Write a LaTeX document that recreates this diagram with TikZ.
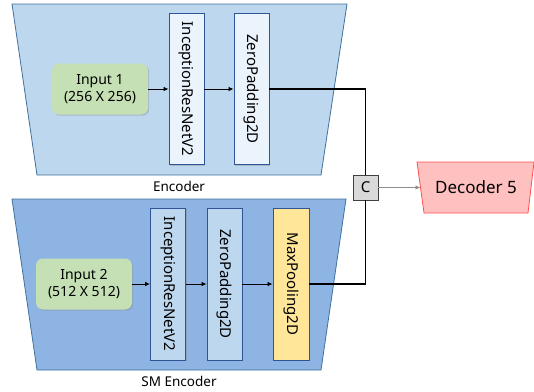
\documentclass[tikz,border=0pt]{standalone}
\usepackage{fontspec}
\setmainfont{Noto Sans}
\usetikzlibrary{arrows.meta,shadows}
\definecolor{encfill}{HTML}{BDD7EE}
\definecolor{smfill}{HTML}{8EB4E3}
\definecolor{trapline}{HTML}{41719C}
\definecolor{boxline}{HTML}{2F5597}
\definecolor{lightbox}{HTML}{EBF3FC}
\definecolor{midbox}{HTML}{BDD7EE}
\definecolor{ingreen}{HTML}{C5E0B4}
\definecolor{mpyellow}{HTML}{FFE699}
\definecolor{cgray}{HTML}{D9D9D9}
\definecolor{decfill}{HTML}{FFC0C0}
\definecolor{decline}{HTML}{FF5050}
\tikzset{
  trap/.style={draw=trapline, line width=0.8pt},
  layerbox/.style={draw=boxline, line width=0.9pt, minimum width=35pt, minimum height=151pt, inner sep=0pt,
    drop shadow={shadow xshift=1.2pt, shadow yshift=-1.2pt, opacity=0.35}},
  inputbox/.style={fill=ingreen, rounded corners=7pt, minimum width=96pt, minimum height=51pt, align=center,
    font=\fontsize{14}{17}\selectfont, inner sep=0pt,
    drop shadow={shadow xshift=1.2pt, shadow yshift=-1.2pt, opacity=0.35}},
  vtext/.style={rotate=-90, font=\fontsize{15}{17}\selectfont},
  flow/.style={-{Latex[length=5pt,width=4.5pt]}, line width=0.8pt},
  mainline/.style={line width=1.8pt, black},
  caption/.style={font=\fontsize{13.5}{16}\selectfont}
}
\begin{document}
\begin{tikzpicture}[x=1pt,y=-1pt]
\useasboundingbox (0,0) rectangle (534,391);
% trapezoids
\draw[trap, fill=encfill] (12,4) -- (347,4) -- (321,175) -- (37,175) -- cycle;
\draw[trap, fill=smfill] (12,199) -- (346,199) -- (321,370) -- (37,370) -- cycle;
\node[caption] (enclabel) at (179,186.5) {Encoder};
\node[caption] (smlabel) at (179,381.5) {SM Encoder};

% encoder
\node[inputbox] (in1) at (100,89) {Input 1\\(256 X 256)};
\node[layerbox, fill=lightbox, label={[vtext]center:InceptionResNetV2}] (inc1) at (186.5,89) {};
\node[layerbox, fill=lightbox, label={[vtext]center:ZeroPadding2D}] (zp1) at (251.5,89) {};
\draw[flow] (in1) -- (inc1);
\draw[flow] (inc1) -- (zp1);

% SM encoder
\node[inputbox] (in2) at (84,284) {Input 2\\(512 X 512)};
\node[layerbox, fill=midbox, minimum height=152pt, label={[vtext]center:InceptionResNetV2}] (inc2) at (168,284) {};
\node[layerbox, fill=midbox, minimum height=152pt, label={[vtext]center:ZeroPadding2D}] (zp2) at (224.5,284) {};
\node[layerbox, fill=mpyellow, minimum width=36pt, minimum height=152pt, label={[vtext]center:MaxPooling2D}] (mp) at (291,284) {};
\draw[flow] (in2) -- (inc2);
\draw[flow] (inc2) -- (zp2);
\draw[flow] (zp2) -- (mp);

% concat
\node[draw=black!75, fill=cgray, line width=0.8pt, minimum size=25pt, inner sep=0pt,
  font=\fontsize{15}{17}\selectfont] (C) at (365.5,187.5) {C};
\draw[mainline] (zp1.east) -| (C.north);
\draw[mainline] (mp.east) -| (C.south);

% decoder
\draw[draw=decline, fill=decfill, line width=0.8pt] (417,162) -- (534,162) -- (528,213) -- (424,213) -- cycle;
\node[font=\fontsize{17}{20}\selectfont] (dec) at (476,187.5) {Decoder 5};
\coordinate (decw) at (420.5,187.5);
\draw[-{Latex[length=5pt,width=4.5pt]}, draw=black!45, line width=0.9pt] (C.east) -- (decw);
\end{tikzpicture}
\end{document}
